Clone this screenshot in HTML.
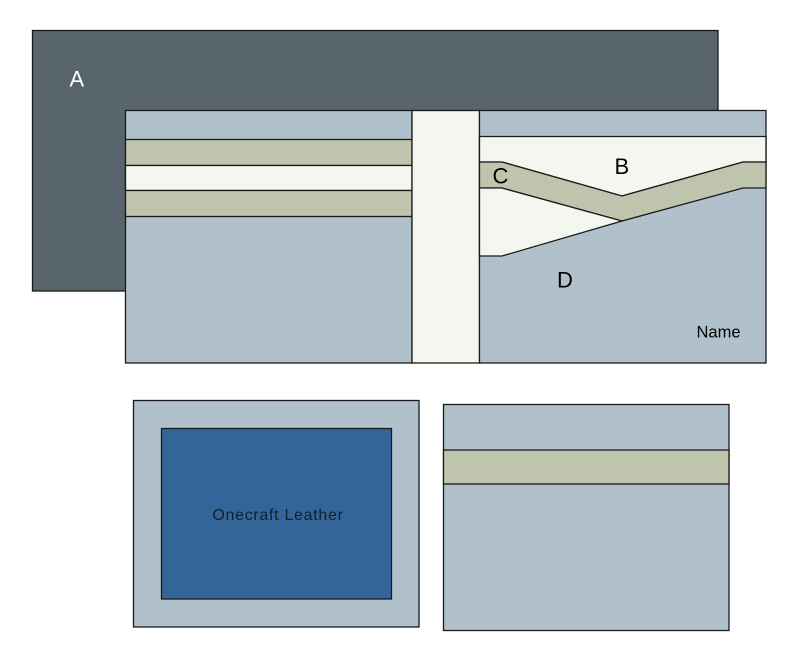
<!DOCTYPE html>
<html><head><meta charset="utf-8"><style>
html,body{margin:0;padding:0;background:#fff;}
svg{display:block;}
</style></head><body>
<svg width="798" height="658" viewBox="0 0 798 658" xmlns="http://www.w3.org/2000/svg">
<g stroke="#1a1a1a" stroke-width="1.3">
<!-- A -->
<rect x="32.5" y="30.5" width="685.5" height="260.5" fill="#58656c"/>
<!-- left panel -->
<rect x="125.5" y="110.5" width="286.5" height="252.5" fill="#b1c1cb"/>
<rect x="125.5" y="139.5" width="286.5" height="26" fill="#bfc4ad"/>
<rect x="125.5" y="165.5" width="286.5" height="25" fill="#f4f7ef"/>
<rect x="125.5" y="190.5" width="286.5" height="26" fill="#bfc4ad"/>
<!-- center -->
<rect x="412" y="110.5" width="67.5" height="252.5" fill="#f4f7ef"/>
<!-- right panel -->
<rect x="479.5" y="110.5" width="286.5" height="252.5" fill="#b1c1cb"/>
<polygon points="479.5,136.5 766,136.5 766,162 743,162 622,196 502,162 479.5,162" fill="#f4f7ef"/>
<polygon points="479.5,162 502,162 622,196 743,162 766,162 766,188 743,188 622,221 502,188 479.5,188" fill="#bfc4ad"/>
<polygon points="479.5,188 502,188 622,221 502,256 479.5,256" fill="#f4f7ef"/>
<!-- bottom left -->
<rect x="133.5" y="400.5" width="285.5" height="226.5" fill="#b1c1cb"/>
<rect x="161.5" y="428.5" width="230" height="170.5" fill="#336598"/>
<!-- bottom right -->
<rect x="443.5" y="404.5" width="285.5" height="226" fill="#b1c1cb"/>
<rect x="443.5" y="450" width="285.5" height="34" fill="#bfc4ad"/>
</g>
<g font-family="Liberation Sans, sans-serif">
<text x="69.5" y="86.5" font-size="22" fill="#ffffff">A</text>
<text x="614.5" y="174" font-size="22" fill="#000">B</text>
<text x="492.5" y="183.5" font-size="22" fill="#000">C</text>
<text x="557" y="287.5" font-size="22" fill="#000">D</text>
<text x="696.5" y="337.5" font-size="16.5" fill="#000">Name</text>
<text x="278" y="520" font-size="16" letter-spacing="0.7" text-anchor="middle" fill="#15202b">Onecraft Leather</text>
</g>
</svg>
</body></html>
